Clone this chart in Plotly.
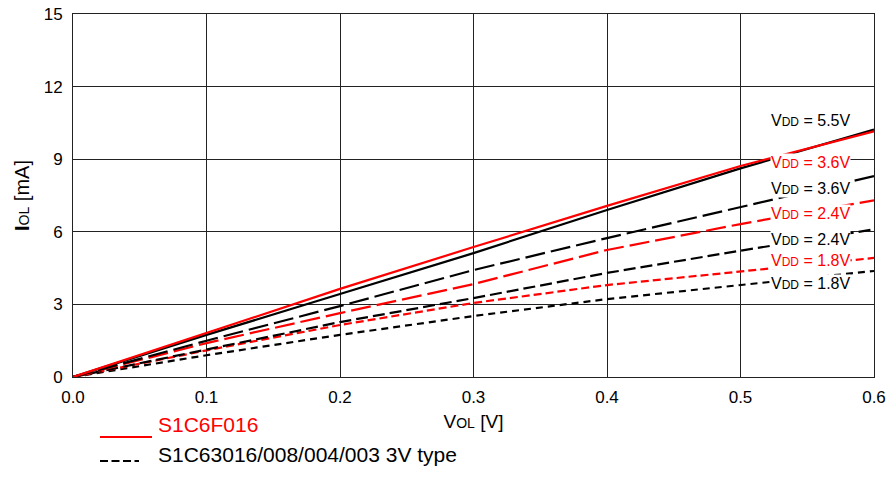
import plotly.graph_objects as go

vol = [0.0, 0.1, 0.2, 0.3, 0.4, 0.5, 0.6]

# S1C6F016 (red)
red_36 = [0.0, 1.82, 3.64, 5.37, 7.07, 8.72, 10.15]
red_24 = [0.0, 1.40, 2.64, 3.84, 5.25, 6.32, 7.30]
red_18 = [0.0, 1.10, 2.15, 3.06, 3.80, 4.35, 4.92]

# S1C63016/008/004/003 3V type (black)
blk_55 = [0.0, 1.74, 3.43, 5.12, 6.90, 8.62, 10.22]
blk_36 = [0.0, 1.50, 2.93, 4.42, 5.74, 7.02, 8.30]
blk_24 = [0.0, 1.15, 2.27, 3.26, 4.30, 5.22, 6.10]
blk_18 = [0.0, 0.90, 1.74, 2.52, 3.22, 3.80, 4.38]

series = [
    (blk_18, "black", "7px,5px"),
    (red_18, "red", "8px,4px"),
    (blk_24, "black", "12px,5px"),
    (red_24, "red", "20px,6px"),
    (blk_36, "black", "20px,6px"),
    (blk_55, "black", "solid"),
    (red_36, "red", "solid"),
]

labels = [
    ("5.5V", "black", 10.58),
    ("3.6V", "red", 8.88),
    ("3.6V", "black", 7.77),
    ("2.4V", "red", 6.74),
    ("2.4V", "black", 5.70),
    ("1.8V", "red", 4.83),
    ("1.8V", "black", 3.88),
]

L, R, T, B = 73, 16, 14, 104
PW, PH = 890 - L - R, 481 - T - B

def px(x):
    return (x - L) / PW

def py(y):
    return (481 - B - y) / PH

fig = go.Figure()
for ys, col, dash in series:
    fig.add_trace(go.Scatter(x=vol, y=ys, mode="lines",
                             line=dict(color=col, width=2.2, dash=dash),
                             showlegend=False, hoverinfo="skip"))

for txt, col, yv in labels:
    fig.add_annotation(x=0.5525, y=yv, xref="x", yref="y",
                       text="V<span style='font-size:12px'>DD</span> = " + txt,
                       showarrow=False, font=dict(color=col, size=16),
                       bgcolor="white", borderpad=0)

# legend (manual)
fig.add_shape(type="line", xref="paper", yref="paper",
              x0=px(100), x1=px(152), y0=py(437), y1=py(437),
              line=dict(color="red", width=2.2))
fig.add_shape(type="line", xref="paper", yref="paper",
              x0=px(100), x1=px(139), y0=py(461), y1=py(461),
              line=dict(color="black", width=2.2, dash="8px,3.5px"))
fig.add_annotation(xref="paper", yref="paper", x=px(156), y=py(438),
                   text="S1C6F016", showarrow=False, xanchor="left",
                   font=dict(color="red", size=21))
fig.add_annotation(xref="paper", yref="paper", x=px(156), y=py(468),
                   text="S1C63016/008/004/003 3V type", showarrow=False, xanchor="left",
                   font=dict(color="black", size=21))

axis_common = dict(showgrid=True, gridcolor="#222", gridwidth=1,
                   showline=True, linecolor="#222", linewidth=1, mirror=True,
                   zeroline=False, ticks="", tickfont=dict(size=17, color="black"))

fig.update_xaxes(range=[0, 0.6], tickvals=vol, ticktext=[f"{v:.1f}" for v in vol],
                 ticklabelstandoff=5,
                 title=dict(text="V<span style='font-size:14px'>OL</span> [V]",
                            font=dict(size=19, color="black"), standoff=8),
                 **axis_common)
fig.update_yaxes(range=[0, 15], tickvals=[0, 3, 6, 9, 12, 15],
                 ticklabelstandoff=6,
                 title=dict(text="<b>I</b><span style='font-size:14px'>OL</span> [mA]",
                            font=dict(size=20, color="black"), standoff=8),
                 **axis_common)

fig.update_layout(width=890, height=481, plot_bgcolor="white", paper_bgcolor="white",
                  margin=dict(l=L, r=R, t=T, b=B, autoexpand=False),
                  font=dict(family="Liberation Sans, Arial, sans-serif"))

fig.write_html("out.html")
